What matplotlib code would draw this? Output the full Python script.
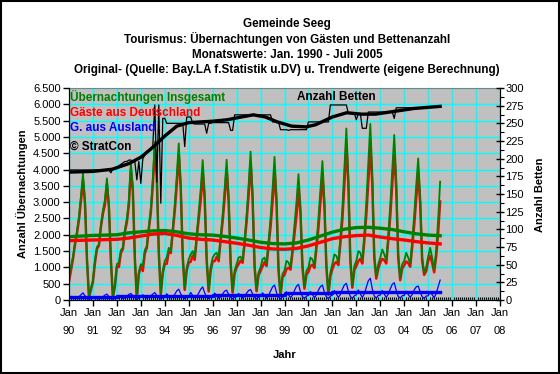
import matplotlib
matplotlib.use('Agg')
import matplotlib.pyplot as plt
from matplotlib.ticker import FixedLocator, FuncFormatter, MultipleLocator
from matplotlib.patches import Rectangle
import numpy as np

plt.rcParams['font.family'] = ['Liberation Sans', 'DejaVu Sans']

# ---------------- data (monthly, Jan 1990 - Jul 2005) ----------------
uebernachtungen = [
    620, 1020, 1330, 1740, 2100, 2560, 3200, 3880, 3100, 1300, 100, 350,      # 1990
    610, 1230, 1630, 1700, 2300, 2750, 3070, 3730, 2950, 1250, 100, 460,      # 1991
    1100, 1150, 1530, 1600, 2150, 2500, 3070, 4200, 3470, 1330, 50, 860,      # 1992
    1100, 1050, 1530, 1650, 2250, 2800, 3700, 4850, 3900, 1500, 200, 900,     # 1993
    1200, 1300, 1600, 1500, 2200, 2900, 3800, 4800, 3600, 1400, 350, 1000,    # 1994
    1250, 1400, 1500, 1300, 2000, 2700, 3400, 4290, 3300, 1300, 300, 1000,    # 1995
    1300, 1400, 1450, 1250, 1950, 2600, 3400, 4300, 3200, 1200, 255, 900,     # 1996
    1100, 1300, 1330, 1200, 1850, 2600, 3500, 4550, 3300, 1100, 300, 850,     # 1997
    1000, 1250, 1300, 1100, 1800, 2500, 3400, 4390, 3200, 1000, 150, 800,     # 1998
    900, 1200, 1150, 1000, 1600, 2300, 3000, 3860, 2900, 1100, 400, 900,      # 1999
    1000, 1300, 1250, 1050, 1750, 2500, 3400, 4260, 3100, 1100, 200, 850,     # 2000
    1100, 1400, 1350, 1150, 1900, 2800, 4000, 5260, 3800, 1300, 430, 1050,    # 2001
    1200, 1500, 1450, 1200, 2000, 3000, 4200, 5400, 3900, 1400, 716, 1100,    # 2002
    1300, 1550, 1400, 1200, 2000, 2900, 4000, 5060, 3700, 1400, 665, 1100,    # 2003
    1200, 1450, 1300, 1100, 1800, 2600, 3500, 4340, 3200, 1300, 820, 1000,    # 2004
    1330, 1600, 1300, 920, 1530, 2450, 3630,                                  # 2005
]

deutschland = [
    560, 910, 1260, 1700, 2040, 2460, 3040, 3660, 2970, 1240, 80, 310,        # 1990
    560, 1130, 1560, 1670, 2240, 2650, 2920, 3550, 2840, 1200, 80, 410,       # 1991
    1030, 1010, 1440, 1560, 2080, 2380, 2900, 4000, 3340, 1270, 30, 800,      # 1992
    1020, 890, 1430, 1600, 2170, 2670, 3520, 4620, 3760, 1440, 170, 830,      # 1993
    1110, 1110, 1480, 1440, 2100, 2730, 3520, 4470, 3410, 1320, 310, 910,     # 1994
    1150, 1170, 1360, 1230, 1890, 2490, 3070, 3890, 3080, 1210, 260, 900,     # 1995
    1190, 1190, 1320, 1190, 1850, 2410, 3130, 4000, 3030, 1120, 225, 810,     # 1996
    1000, 1100, 1210, 1140, 1740, 2390, 3210, 4230, 3110, 1020, 270, 760,     # 1997
    890, 1030, 1160, 1040, 1670, 2230, 3000, 3930, 2970, 910, 120, 700,       # 1998
    770, 950, 990, 930, 1450, 2010, 2580, 3380, 2650, 1000, 350, 780,         # 1999
    860, 1040, 1080, 980, 1590, 2200, 2990, 3800, 2860, 1000, 160, 730,       # 2000
    950, 1110, 1170, 1070, 1730, 2470, 3540, 4750, 3530, 1190, 380, 920,      # 2001
    1040, 1190, 1260, 1120, 1810, 2610, 3610, 4735, 3560, 1280, 656, 960,     # 2002
    1150, 1260, 1220, 1120, 1820, 2560, 3520, 4530, 3410, 1290, 605, 970,     # 2003
    1060, 1180, 1130, 1020, 1630, 2290, 3100, 3910, 2950, 1200, 770, 880,     # 2004
    1200, 1350, 1140, 850, 1330, 2050, 3020,                                  # 2005
]

ausland = [
    60, 110, 70, 40, 60, 100, 160, 220, 130, 60, 20, 40,         # 1990
    50, 100, 70, 30, 60, 100, 150, 180, 110, 50, 20, 50,         # 1991
    70, 140, 90, 40, 70, 120, 170, 200, 130, 60, 20, 60,         # 1992
    80, 160, 100, 50, 80, 130, 180, 230, 140, 60, 30, 70,        # 1993
    90, 190, 120, 60, 100, 170, 280, 330, 190, 80, 40, 90,       # 1994
    100, 230, 140, 70, 110, 210, 330, 400, 220, 90, 40, 100,     # 1995
    110, 210, 130, 60, 100, 190, 270, 300, 170, 80, 30, 90,      # 1996
    100, 200, 120, 60, 110, 210, 290, 320, 190, 80, 30, 90,      # 1997
    110, 220, 140, 60, 130, 270, 400, 460, 230, 90, 30, 100,     # 1998
    130, 250, 160, 70, 150, 290, 420, 480, 250, 100, 50, 120,    # 1999
    140, 260, 170, 70, 160, 300, 410, 460, 240, 100, 40, 120,    # 2000
    150, 290, 180, 80, 170, 330, 460, 510, 270, 110, 50, 130,    # 2001
    160, 310, 190, 80, 190, 390, 590, 665, 340, 120, 60, 140,    # 2002
    150, 290, 180, 80, 180, 340, 480, 530, 290, 110, 60, 130,    # 2003
    140, 270, 170, 80, 170, 310, 400, 430, 250, 100, 50, 120,    # 2004
    130, 250, 160, 70, 200, 400, 610,                            # 2005
]

betten = [
    184, 184, 184, 184, 184, 184, 184, 184, 184, 184, 184, 184,  # 1990
    184, 184, 184, 184, 184, 184, 184, 184, 184, 180, 186, 186,  # 1991
    186, 190, 192, 194, 196, 196, 198, 198, 196, 196, 170, 196,  # 1992
    165, 200, 205, 210, 212, 215, 218, 276, 167, 276, 137, 257,  # 1993
    257, 250, 250, 250, 250, 250, 250, 250, 250, 250, 217, 259,  # 1994
    259, 259, 250, 249, 249, 249, 249, 249, 249, 236, 250, 250,  # 1995
    251, 251, 251, 251, 251, 251, 251, 251, 251, 240, 240, 262,  # 1996
    262, 262, 262, 262, 262, 262, 262, 262, 262, 262, 262, 262,  # 1997
    262, 262, 262, 262, 262, 262, 252, 252, 252, 252, 241, 241,  # 1998
    241, 241, 240, 241, 241, 241, 241, 241, 241, 241, 241, 241,  # 1999
    252, 252, 252, 252, 252, 252, 252, 252, 252, 252, 252, 276,  # 2000
    276, 276, 276, 276, 276, 276, 276, 276, 264, 264, 264, 264,  # 2001
    255, 264, 264, 243, 243, 243, 266, 266, 266, 266, 266, 266,  # 2002
    266, 266, 266, 266, 266, 266, 266, 257, 272, 272, 272, 272,  # 2003
    272, 272, 272, 272, 272, 272, 272, 272, 272, 272, 272, 272,  # 2004
    273, 273, 273, 273, 273, 273, 273,                           # 2005
]

# trend values (own calculation)
trend_jahre = [1990.0, 1990.5, 1991.0, 1991.5, 1992.0, 1992.5, 1993.0, 1993.5,
               1994.0, 1994.5, 1995.0, 1995.5, 1996.0, 1996.5, 1997.0, 1997.5,
               1998.0, 1998.5, 1999.0, 1999.5, 2000.0, 2000.5, 2001.0, 2001.5,
               2002.0, 2002.5, 2003.0, 2003.5, 2004.0, 2004.5, 2005.0, 2005.5]
trend_gesamt = [1940, 1960, 1980, 1990, 2000, 2060, 2090, 2120,
                2130, 2090, 2030, 2000, 1990, 1950, 1900, 1840,
                1770, 1730, 1720, 1750, 1840, 1960, 2080, 2170,
                2220, 2230, 2200, 2160, 2090, 2030, 1990, 1970]
trend_deutschland = [1820, 1830, 1840, 1850, 1860, 1900, 1960, 2020,
                     2040, 1980, 1900, 1860, 1840, 1790, 1740, 1680,
                     1610, 1565, 1555, 1580, 1660, 1770, 1880, 1940,
                     1975, 1990, 1930, 1880, 1840, 1790, 1750, 1720]
trend_ausland_jahre = [1990, 1991, 1992, 1993, 1994, 1995, 1996, 1997, 1998,
                       1999, 2000, 2001, 2002, 2003, 2004, 2005, 2005.5]
trend_ausland = [95, 100, 110, 115, 125, 135, 140, 150, 165,
                 215, 220, 245, 255, 245, 250, 255, 255]
trend_betten_jahre = [1990.0, 1991.0, 1991.8, 1992.5, 1993.0, 1993.5, 1994.0, 1994.5,
                      1995.0, 1996.0, 1996.6, 1997.2, 1997.7, 1998.2, 1998.7, 1999.3,
                      1999.9, 2000.3, 2001.0, 2001.6, 2002.2, 2002.8, 2003.4, 2004.4, 2005.5]
trend_betten = [181, 182, 185, 193, 202, 216, 232, 246,
                251, 253, 255, 259, 262, 259, 252, 246,
                245, 248, 259, 265, 263, 263, 266, 271, 274]

jahr_ticks = list(range(1990, 2009))
jahr_labels = ["Jan\n%02d" % (j % 100) for j in jahr_ticks]

titel = ["Gemeinde Seeg",
         "Tourismus: Übernachtungen von Gästen und Bettenanzahl",
         "Monatswerte: Jan. 1990 - Juli 2005",
         "Original- (Quelle: Bay.LA f.Statistik u.DV) u. Trendwerte (eigene Berechnung)"]

# ---------------- figure ----------------
W, H = 560, 374
fig = plt.figure(figsize=(W / 100, H / 100), dpi=100, facecolor='white')

def fx(x):
    return x / W

def fy(y):
    return 1 - y / H

L, R, T, B = 69, 500, 88, 300
ax = fig.add_axes([fx(L), fy(B), fx(R) - fx(L), fy(T) - fy(B)])
ax.set_facecolor('#C0C0C0')

monate = 1990 + np.arange(len(uebernachtungen)) / 12.0

GREEN = '#008000'
RED = '#FF0000'
BLUE = '#0000FF'

ax.plot(monate, deutschland, color=RED, lw=1.8, zorder=3)
ax.plot(monate, uebernachtungen, color=GREEN, lw=1.3, zorder=4)
ax.plot(monate, ausland, color=BLUE, lw=0.9, zorder=4)
ax.plot(trend_jahre, trend_gesamt, color=GREEN, lw=2.4, zorder=5)
ax.plot(trend_jahre, trend_deutschland, color=RED, lw=2.4, zorder=5)
ax.step(trend_ausland_jahre, trend_ausland, where='post', color=BLUE, lw=2.4, zorder=5)

ax.set_xlim(1990, 2008)
ax.set_ylim(0, 6500)
ax.yaxis.set_major_locator(MultipleLocator(500))
ax.yaxis.set_major_formatter(FuncFormatter(lambda v, p: '{:,}'.format(int(v)).replace(',', '.')))
ax.xaxis.set_major_locator(FixedLocator(jahr_ticks))
ax.set_xticklabels(jahr_labels, linespacing=1.95)
ax.xaxis.set_minor_locator(MultipleLocator(1 / 12))
ax.grid(True, which='major', color='#00FFFF', lw=1.0, zorder=1)
ax.set_axisbelow(True)

ax.tick_params(axis='y', which='major', direction='out', length=4, width=1,
               labelsize=8, pad=2)
ax.tick_params(axis='x', which='major', direction='out', length=4, width=1,
               labelsize=8, pad=2)
ax.tick_params(axis='x', which='minor', direction='in', length=2, width=0.8)
for s in ['left', 'bottom']:
    ax.spines[s].set_color('black')
ax.spines['top'].set_color('#808080')
ax.spines['right'].set_color('black')

ax2 = ax.twinx()
ax2.plot(monate, betten, color='black', lw=0.9, zorder=3)
ax2.plot(trend_betten_jahre, trend_betten, color='black', lw=2.4, zorder=4)
ax2.set_ylim(0, 300)
ax2.yaxis.set_major_locator(MultipleLocator(25))
ax2.yaxis.set_minor_locator(MultipleLocator(12.5))
ax2.tick_params(axis='y', which='major', direction='inout', length=6, width=1,
                labelsize=8, pad=1)
ax2.tick_params(axis='y', which='minor', direction='out', length=3, width=0.8)
ax2.spines['top'].set_visible(False)

# titles
for txt, y in zip(titel, [24, 39, 55, 70]):
    fig.text(fx(287), fy(y), txt, ha='center', va='center',
             fontsize=8.4, fontweight='bold')

# legend-like labels inside the plot
fig.text(fx(70), fy(97), "Übernachtungen Insgesamt", color=GREEN,
         fontsize=8.5, fontweight='bold', va='center', ha='left')
fig.text(fx(70), fy(113), "Gäste aus Deutschland", color=RED,
         fontsize=8.5, fontweight='bold', va='center', ha='left')
fig.text(fx(70), fy(128.5), "G. aus Ausland", color=BLUE,
         fontsize=8.5, fontweight='bold', va='center', ha='left')
fig.text(fx(70), fy(147), "© StratCon", color='black',
         fontsize=8.5, fontweight='bold', va='center', ha='left')
fig.text(fx(297), fy(97), "Anzahl Betten", color='black',
         fontsize=8.5, fontweight='bold', va='center', ha='left')

# axis titles
fig.text(fx(22), fy(194), "Anzahl Übernachtungen", rotation=90,
         ha='center', va='center', fontsize=8, fontweight='bold')
fig.text(fx(540), fy(195), "Anzahl Betten", rotation=90,
         ha='center', va='center', fontsize=8, fontweight='bold')
fig.text(fx(285), fy(355), "Jahr", ha='center', va='center',
         fontsize=8, fontweight='bold')

# outer frame
fig.patches.append(Rectangle((0.001, 0.002), 0.997, 0.995, transform=fig.transFigure,
                             fill=False, edgecolor='black', lw=1.5))

fig.savefig('out.png', dpi=100, facecolor='white')
